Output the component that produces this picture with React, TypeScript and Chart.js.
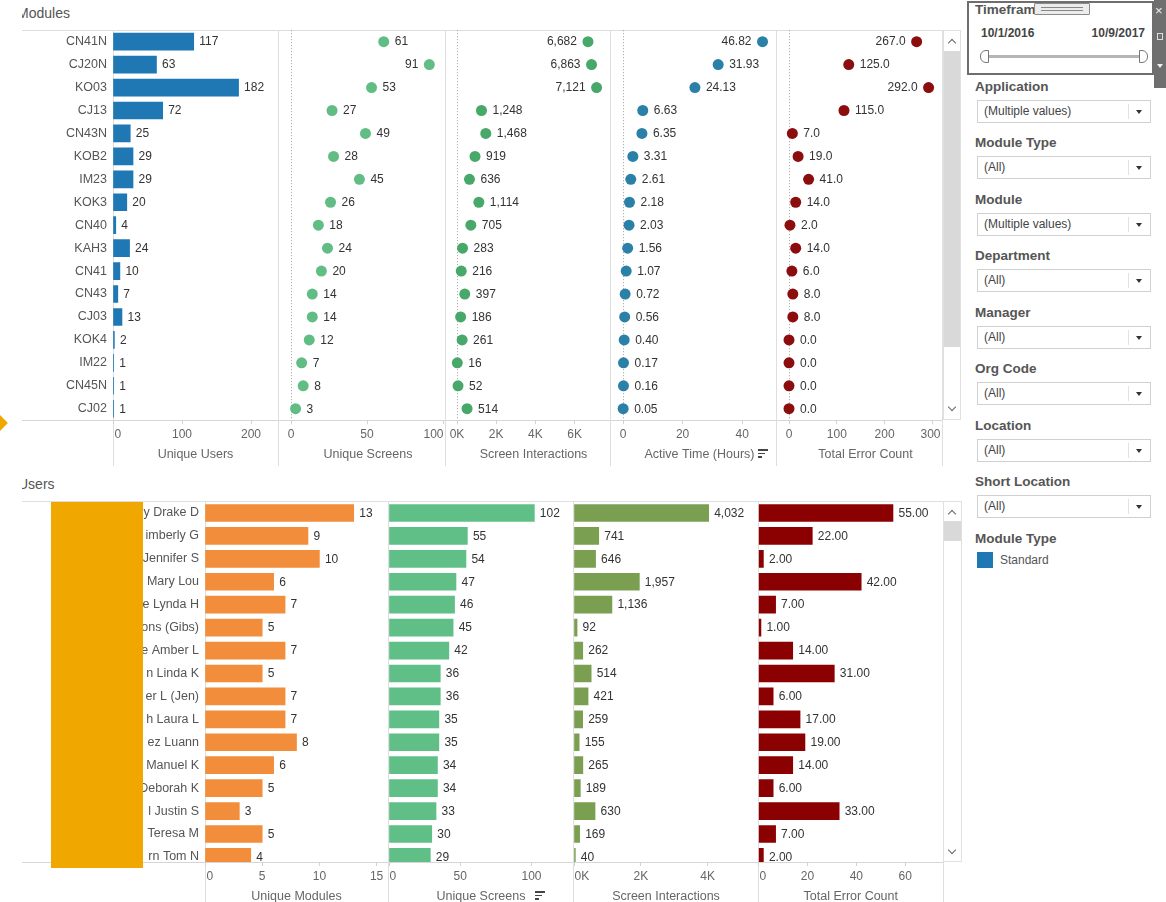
import React, { useEffect, useRef } from "react";
import { Chart, registerables } from "chart.js";

Chart.register(...registerables);

const FONT = '"Liberation Sans", Arial, sans-serif';

// ---------------- Modules section ----------------
const moduleNames = ["CN41N", "CJ20N", "KO03", "CJ13", "CN43N", "KOB2", "IM23", "KOK3", "CN40", "KAH3", "CN41", "CN43", "CJ03", "KOK4", "IM22", "CN45N", "CJ02"];
const moduleUniqueUsers = [117, 63, 182, 72, 25, 29, 29, 20, 4, 24, 10, 7, 13, 2, 1, 1, 1];
const moduleUniqueScreens = [61, 91, 53, 27, 49, 28, 45, 26, 18, 24, 20, 14, 14, 12, 7, 8, 3];
const moduleScreenInteractions = [6682, 6863, 7121, 1248, 1468, 919, 636, 1114, 705, 283, 216, 397, 186, 261, 16, 52, 514];
const moduleActiveHours = [46.82, 31.93, 24.13, 6.63, 6.35, 3.31, 2.61, 2.18, 2.03, 1.56, 1.07, 0.72, 0.56, 0.4, 0.17, 0.16, 0.05];
const moduleErrorCount = [267, 125, 292, 115, 7, 19, 41, 14, 2, 14, 6, 8, 8, 0, 0, 0, 0];

const ticksModUsers = [0, 100, 200];
const ticksModScreens = [0, 50, 100];
const ticksModInteractions = [0, 2000, 4000, 6000];
const ticksModHours = [0, 20, 40];
const ticksModErrors = [0, 100, 200, 300];

// ---------------- Users section ----------------
const userNames = ["y Drake D", "imberly G", "Jennifer S", "Mary Lou", "e Lynda H", "ons (Gibs)", "e Amber L", "n Linda K", "er L (Jen)", "h Laura L", "ez Luann", "Manuel K", "Deborah K", "l Justin S", "Teresa M", "rn Tom N"];
const userUniqueModules = [13, 9, 10, 6, 7, 5, 7, 5, 7, 7, 8, 6, 5, 3, 5, 4];
const userUniqueScreens = [102, 55, 54, 47, 46, 45, 42, 36, 36, 35, 35, 34, 34, 33, 30, 29];
const userScreenInteractions = [4032, 741, 646, 1957, 1136, 92, 262, 514, 421, 259, 155, 265, 189, 630, 169, 40];
const userErrorCount = [55, 22, 2, 42, 7, 1, 14, 31, 6, 17, 19, 14, 6, 33, 7, 2];

const ticksUsrModules = [0, 5, 10, 15];
const ticksUsrScreens = [0, 50, 100];
const ticksUsrInteractions = [0, 2000, 4000];
const ticksUsrErrors = [0, 20, 40, 60];

// ---------------- Filters ----------------
const filterTitles = ["Application", "Module Type", "Module", "Department", "Manager", "Org Code", "Location", "Short Location"];
const filterValues = ["(Multiple values)", "(All)", "(Multiple values)", "(All)", "(All)", "(All)", "(All)", "(All)"];
const timeframeStart = "10/1/2016";
const timeframeEnd = "10/9/2017";
const legendTitle = "Module Type";
const legendItems = ["Standard"];

// ---------------- formatting ----------------
const fmtInt = (v: number) => String(Math.round(v));
const fmtComma = (v: number) => Math.round(v).toLocaleString("en-US");
const fmtK = (v: number) => `${Math.round(v / 1000)}K`;

type Section = {
  rows: string[];
  linearRows: boolean;
  chartTop: number;
  chartBottom: number;
  canvasTop: number;
  canvasBottom: number;
  titlePad: number;
  tickY: number;
};

type Panel = {
  kind: "bar" | "dot";
  labels?: boolean;
  values: number[];
  color: string;
  start: number;
  zero: number;
  right: number;
  ppu: number;
  ticks: number[];
  tickFmt?: (v: number) => string;
  title: string;
  fmt: (v: number) => string;
};

const ROW_PITCH = 22.93;

const TOP: Section = { rows: moduleNames, linearRows: false, chartTop: 30.2, chartBottom: 420.2, canvasTop: 10, canvasBottom: 465, titlePad: 3, tickY: 435 };
const BOTTOM: Section = { rows: userNames, linearRows: true, chartTop: 501.5, chartBottom: 862, canvasTop: 481, canvasBottom: 905, titlePad: 1, tickY: 877 };

const topPanels: Panel[] = [
  { kind: "bar", labels: true, values: moduleUniqueUsers, color: "#1f77b4", start: 113, zero: 113, right: 278, ppu: 0.69, ticks: ticksModUsers, title: "Unique Users", fmt: fmtInt },
  { kind: "dot", values: moduleUniqueScreens, color: "#62bd85", start: 278, zero: 291, right: 445, ppu: 1.52, ticks: ticksModScreens, title: "Unique Screens", fmt: fmtInt },
  { kind: "dot", values: moduleScreenInteractions, color: "#48a86a", start: 445, zero: 457, right: 610, ppu: 0.0196, ticks: ticksModInteractions, tickFmt: fmtK, title: "Screen Interactions", fmt: fmtComma },
  { kind: "dot", values: moduleActiveHours, color: "#2b80a8", start: 610, zero: 623, right: 776, ppu: 2.98, ticks: ticksModHours, title: "Active Time (Hours)", fmt: (v) => v.toFixed(2) },
  { kind: "dot", values: moduleErrorCount, color: "#8c0d0d", start: 776, zero: 789, right: 942, ppu: 0.478, ticks: ticksModErrors, title: "Total Error Count", fmt: (v) => v.toFixed(1) },
];

const bottomPanels: Panel[] = [
  { kind: "bar", labels: true, values: userUniqueModules, color: "#f28e3b", start: 205, zero: 205, right: 388, ppu: 11.44, ticks: ticksUsrModules, title: "Unique Modules", fmt: fmtInt },
  { kind: "bar", values: userUniqueScreens, color: "#5fbf87", start: 388, zero: 389, right: 573, ppu: 1.425, ticks: ticksUsrScreens, title: "Unique Screens", fmt: fmtInt },
  { kind: "bar", values: userScreenInteractions, color: "#7b9f50", start: 573, zero: 574, right: 758, ppu: 0.0334, ticks: ticksUsrInteractions, tickFmt: fmtK, title: "Screen Interactions", fmt: fmtComma },
  { kind: "bar", values: userErrorCount, color: "#8b0000", start: 758, zero: 758.5, right: 943, ppu: 2.445, ticks: ticksUsrErrors, title: "Total Error Count", fmt: (v) => v.toFixed(2) },
];

function makeLabelPlugin(panel: Panel, clipRows: boolean) {
  return {
    id: "valueLabels",
    afterDatasetsDraw(chart: any) {
      const { ctx, chartArea } = chart;
      const meta = chart.getDatasetMeta(0);
      const data = chart.data.datasets[0].data;
      ctx.save();
      if (clipRows) {
        ctx.beginPath();
        ctx.rect(chartArea.left - 40, chartArea.top, chartArea.right - chartArea.left + 80, chartArea.bottom - chartArea.top);
        ctx.clip();
      }
      ctx.font = `12px ${FONT}`;
      ctx.fillStyle = "#333";
      ctx.textBaseline = "middle";
      const gap = panel.kind === "bar" ? 5.5 : 11;
      meta.data.forEach((el: any, i: number) => {
        const raw = data[i];
        const v = typeof raw === "number" ? raw : raw.x;
        const text = panel.fmt(v);
        const w = ctx.measureText(text).width;
        let x = el.x + gap;
        let align = "left";
        if (panel.kind === "dot" && x + w > chartArea.right) {
          x = el.x - gap;
          align = "right";
        }
        ctx.textAlign = align;
        ctx.fillText(text, x, el.y + 0.5);
      });
      ctx.restore();
    },
  };
}

// tick labels of the value axis, kept inside their panel like the original
function makeTickPlugin(panel: Panel, sec: Section, canvasLeft: number) {
  return {
    id: "clampedTicks",
    afterDraw(chart: any) {
      const s = chart.scales.x;
      const ctx = chart.ctx;
      const lo = panel.start - canvasLeft + 1.5;
      const hi = panel.right - canvasLeft - 1.5;
      ctx.save();
      ctx.font = `12px ${FONT}`;
      ctx.fillStyle = "#666";
      ctx.textBaseline = "middle";
      ctx.textAlign = "center";
      panel.ticks.forEach((v) => {
        const text = panel.tickFmt ? panel.tickFmt(v) : String(v);
        const w = ctx.measureText(text).width;
        let x = s.getPixelForValue(v);
        x = Math.max(x, lo + w / 2);
        x = Math.min(x, hi - w / 2);
        ctx.fillText(text, x, sec.tickY - sec.canvasTop);
      });
      ctx.restore();
    },
  };
}

function buildConfig(panel: Panel, sec: Section, left: number, width: number) {
  const yTicks: any = { padding: 6, color: "#555", font: { family: FONT, size: 12.5 }, autoSkip: false };
  const yCommon: any = {
    display: !!panel.labels,
    offset: !sec.linearRows,
    afterFit: (s: any) => {
      s.width = panel.labels ? panel.zero - left : 0;
    },
    grid: { display: false, drawTicks: false, offset: false },
    border: { display: false },
  };
  const yScale: any = sec.linearRows
    ? {
        ...yCommon,
        type: "linear",
        reverse: true,
        bounds: "data",
        min: -0.5,
        max: -0.5 + (sec.chartBottom - sec.chartTop) / ROW_PITCH,
        afterBuildTicks: (s: any) => {
          s.ticks = sec.rows.map((_, i) => ({ value: i }));
        },
        ticks: { ...yTicks, callback: (v: any) => sec.rows[Number(v)] ?? "" },
      }
    : { ...yCommon, type: "category", ticks: yTicks };

  const isDot = panel.kind === "dot";
  const xScale: any = {
    type: "linear",
    position: "bottom",
    bounds: "data",
    offset: false,
    min: 0,
    max: (panel.right - panel.zero) / panel.ppu,
    afterFit: (s: any) => {
      s.height = sec.canvasBottom - sec.chartBottom;
    },
    afterBuildTicks: (s: any) => {
      s.ticks = panel.ticks.map((v) => ({ value: v }));
    },
    ticks: { display: false },
    grid: {
      drawOnChartArea: isDot,
      color: (c: any) => (isDot && c.tick && c.tick.value === 0 ? "#a0a0a0" : "rgba(0,0,0,0)"),
      tickColor: "#d2d2d2",
      tickLength: 4,
      lineWidth: 1,
      offset: false,
    },
    border: { display: false, dash: [1, 2] },
    title: {
      display: true,
      text: panel.title,
      color: "#666",
      font: { family: FONT, size: 12.5 },
      padding: { top: 0, bottom: sec.titlePad },
    },
  };

  const dataset: any =
    panel.kind === "bar"
      ? {
          data: sec.linearRows ? panel.values.map((v, i) => ({ x: v, y: i })) : panel.values,
          backgroundColor: panel.color,
          borderWidth: 0,
          barThickness: 17,
        }
      : {
          data: panel.values,
          showLine: false,
          pointRadius: 5.5,
          pointHoverRadius: 5.5,
          pointBorderWidth: 0,
          pointBackgroundColor: panel.color,
          borderColor: panel.color,
          backgroundColor: panel.color,
          clip: false,
        };

  return {
    type: panel.kind === "bar" ? "bar" : "line",
    data: { labels: sec.linearRows ? undefined : sec.rows, datasets: [dataset] },
    options: {
      indexAxis: "y",
      responsive: false,
      animation: false,
      events: [],
      layout: {
        padding: {
          top: sec.chartTop - sec.canvasTop,
          bottom: 0,
          left: panel.labels ? 0 : panel.zero - left,
          right: left + width - panel.right,
        },
      },
      scales: { x: xScale, y: yScale },
      plugins: { legend: { display: false }, tooltip: { enabled: false }, title: { display: false } },
    },
    plugins: [makeLabelPlugin(panel, sec.linearRows), makeTickPlugin(panel, sec, left)],
  };
}

function ChartCanvas({ panel, sec }: { panel: Panel; sec: Section }) {
  const ref = useRef<HTMLCanvasElement>(null);
  const left = panel.labels ? 22 : Math.floor(panel.zero - 24);
  const width = Math.ceil(panel.right + 24) - left;
  const height = sec.canvasBottom - sec.canvasTop;
  useEffect(() => {
    const chart = new Chart(ref.current as HTMLCanvasElement, buildConfig(panel, sec, left, width) as any);
    return () => chart.destroy();
  }, []);
  return (
    <canvas
      ref={ref}
      width={width}
      height={height}
      style={{ position: "absolute", left, top: sec.canvasTop, width, height }}
    />
  );
}

const box = (x: number, y: number, w: number, h: number, bg: string, extra: React.CSSProperties = {}) => ({
  position: "absolute" as const,
  left: x,
  top: y,
  width: w,
  height: h,
  background: bg,
  ...extra,
});

function Chevron({ x, y, up }: { x: number; y: number; up: boolean }) {
  return (
    <div
      style={{
        position: "absolute",
        left: x - 3,
        top: y - (up ? 1.5 : 4.5),
        width: 5,
        height: 5,
        borderLeft: up ? "1.3px solid #666" : undefined,
        borderTop: up ? "1.3px solid #666" : undefined,
        borderRight: up ? undefined : "1.3px solid #666",
        borderBottom: up ? undefined : "1.3px solid #666",
        transform: "rotate(45deg)",
      }}
    />
  );
}

function SortIcon({ x, y }: { x: number; y: number }) {
  return (
    <div style={{ position: "absolute", left: x, top: y }}>
      <div style={box(0, 0, 10, 1.6, "#444")} />
      <div style={box(0, 3.6, 7, 1.6, "#444")} />
      <div style={box(0, 7.2, 3.5, 1.6, "#444")} />
    </div>
  );
}

function Dropdown({ y, text }: { y: number; text: string }) {
  return (
    <div style={box(977, y, 174, 23, "#fff", { border: "1px solid #d0d0d0", boxSizing: "border-box" })}>
      <div style={{ position: "absolute", left: 6, top: 0, lineHeight: "21px", fontSize: 12, color: "#444", fontFamily: FONT }}>{text}</div>
      <div style={box(150, 3, 1, 15, "#e2e2e2")} />
      <div
        style={{
          position: "absolute",
          left: 158,
          top: 9,
          width: 0,
          height: 0,
          borderLeft: "3.5px solid transparent",
          borderRight: "3.5px solid transparent",
          borderTop: "4px solid #333",
        }}
      />
    </div>
  );
}

export default function App() {
  const lineC = "#dedede";
  const topDividers = [113, 278, 445, 610, 776, 942];
  const bottomDividers = [205, 388, 573, 758, 943];
  const filterTitleStyle: React.CSSProperties = {
    position: "absolute",
    left: 975,
    fontFamily: FONT,
    fontWeight: "bold",
    fontSize: 13.5,
    color: "#555",
    lineHeight: "16px",
    whiteSpace: "nowrap",
  };

  return (
    <div
      style={{
        position: "absolute",
        left: 0,
        top: 0,
        width: 1166,
        height: 902,
        overflow: "hidden",
        background: "#fff",
        fontFamily: FONT,
      }}
    >
      {/* section titles */}
      <div style={{ position: "absolute", left: 22, top: 3, width: 120, height: 20, overflow: "hidden" }}>
        <div style={{ position: "absolute", left: -5, top: 0, fontSize: 14, lineHeight: "20px", color: "#555", whiteSpace: "nowrap" }}>Modules</div>
      </div>
      <div style={{ position: "absolute", left: 22, top: 474, width: 120, height: 20, overflow: "hidden" }}>
        <div style={{ position: "absolute", left: -4, top: 0, fontSize: 14, lineHeight: "20px", color: "#555", whiteSpace: "nowrap" }}>Users</div>
      </div>

      {/* top structure lines */}
      <div style={box(22, 30, 939, 1, lineC)} />
      <div style={box(22, 420, 921, 1, "#d6d6d6")} />
      {topDividers.map((x) => (
        <div key={"td" + x} style={box(x, 30, 1, 436, lineC)} />
      ))}
      {/* bottom structure lines */}
      <div style={box(22, 501, 940, 1, lineC)} />
      <div style={box(22, 862, 921, 1, "#d6d6d6")} />
      {bottomDividers.map((x) => (
        <div key={"bd" + x} style={box(x, 501, 1, 401, lineC)} />
      ))}

      {/* charts */}
      {topPanels.map((p, i) => (
        <ChartCanvas key={"t" + i} panel={p} sec={TOP} />
      ))}
      {bottomPanels.map((p, i) => (
        <ChartCanvas key={"b" + i} panel={p} sec={BOTTOM} />
      ))}

      {/* sort icons */}
      <SortIcon x={758} y={449} />
      <SortIcon x={535} y={891} />

      {/* scrollbars */}
      <div style={box(943, 30, 18, 390, "#fff", { border: "1px solid #e0e0e0", boxSizing: "border-box" })} />
      <div style={box(944, 51, 16, 296, "#d9d9d9")} />
      <Chevron x={952} y={41} up={true} />
      <Chevron x={952} y={408} up={false} />
      <div style={box(943, 501, 19, 361, "#fff", { border: "1px solid #e0e0e0", boxSizing: "border-box" })} />
      <div style={box(944, 521, 17, 20, "#d9d9d9")} />
      <Chevron x={952} y={512} up={true} />
      <Chevron x={952} y={851} up={false} />

      {/* redaction block and marker */}
      <div style={box(51, 502, 92, 366, "#f0a800")} />
      <div style={box(-9, 416, 14, 14, "#f0a800", { transform: "rotate(45deg)" })} />

      {/* filter panel */}
      <div style={box(967, 1, 187, 74, "#fff", { border: "2px solid #6e6e6e", boxSizing: "border-box" })} />
      <div style={{ ...filterTitleStyle, top: 2 }}>Timeframe</div>
      <div style={box(1034, 3, 56, 12, "#ececec", { border: "1px solid #8a8a8a", boxSizing: "border-box", borderRadius: 1 })}>
        <div style={box(6, 2.5, 42, 1, "#888")} />
        <div style={box(6, 6, 42, 1, "#888")} />
      </div>
      <div style={{ position: "absolute", left: 981, top: 25, fontSize: 12, fontWeight: "bold", color: "#444", lineHeight: "16px" }}>{timeframeStart}</div>
      <div style={{ position: "absolute", left: 1085, width: 60, textAlign: "right", top: 25, fontSize: 12, fontWeight: "bold", color: "#444", lineHeight: "16px" }}>{timeframeEnd}</div>
      <div style={box(988, 54.5, 152, 3, "#b5b5b5")} />
      <div style={box(980, 49.5, 9, 13, "#fff", { border: "1.5px solid #777", boxSizing: "border-box", borderRadius: "6px 0 0 6px" })} />
      <div style={box(1139, 49.5, 9, 13, "#fff", { border: "1.5px solid #777", boxSizing: "border-box", borderRadius: "0 6px 6px 0" })} />
      <div style={box(1154, 0, 12, 88, "#6f6f6f")} />
      <div style={{ position: "absolute", left: 1155, top: 4, fontSize: 13, color: "#eee", lineHeight: "14px" }}>×</div>
      <div style={box(1157, 33, 6, 7, "transparent", { border: "1px solid #ddd", boxSizing: "border-box" })} />
      <div
        style={{
          position: "absolute",
          left: 1157,
          top: 64,
          width: 0,
          height: 0,
          borderLeft: "3px solid transparent",
          borderRight: "3px solid transparent",
          borderTop: "4px solid #eee",
        }}
      />

      {filterTitles.map((t, i) => {
        const cy = 87 + i * 56.45;
        return (
          <React.Fragment key={"f" + i}>
            <div style={{ ...filterTitleStyle, top: cy - 8 }}>{t}</div>
            <Dropdown y={Math.round(cy + 13)} text={filterValues[i]} />
          </React.Fragment>
        );
      })}
      <div style={{ ...filterTitleStyle, top: 538.5 - 8 }}>{legendTitle}</div>
      {legendItems.map((item, i) => (
        <React.Fragment key={"l" + i}>
          <div style={box(977, 552 + i * 20, 16, 16, "#1f77b4")} />
          <div style={{ position: "absolute", left: 1000, top: 552 + i * 20, lineHeight: "16px", fontSize: 12, color: "#555" }}>{item}</div>
        </React.Fragment>
      ))}
    </div>
  );
}
